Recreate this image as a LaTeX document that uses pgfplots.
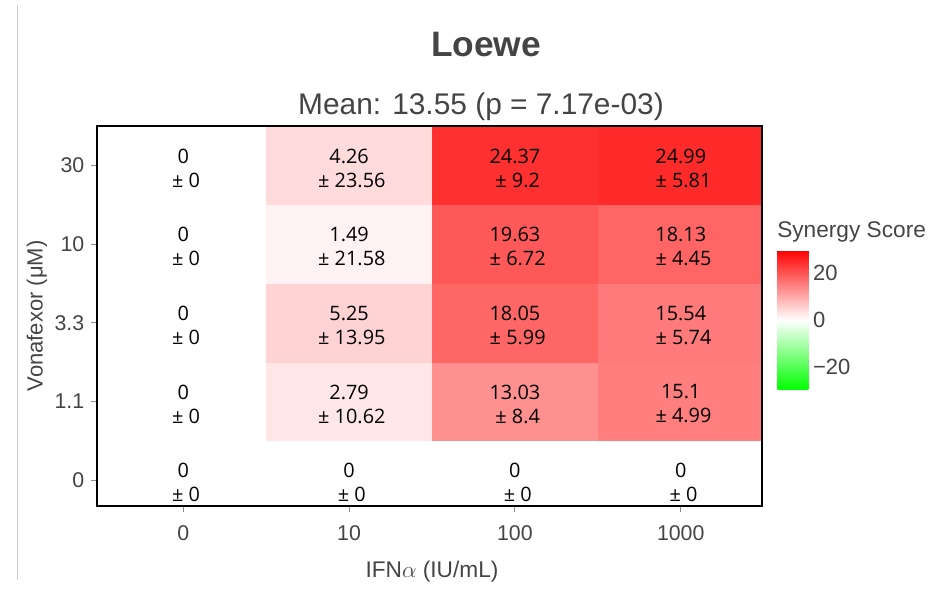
\documentclass[border=0pt]{standalone}
\usepackage{pgfplots}
\pgfplotsset{compat=1.18}
\usepackage{fontspec}
\setmainfont{Liberation Sans}
\newfontfamily\annfont{Open Sans}
\definecolor{tc}{HTML}{444444}
\begin{document}
\begin{tikzpicture}
\path[use as bounding box] (0,0) rectangle (711pt,-444pt);
\draw[black!20, line width=0.75pt] (12.75pt,-3.75pt) -- (12.75pt,-435pt);
\begin{axis}[
  at={(72.75pt,-379.5pt)}, anchor=south west,
  scale only axis, width=498.75pt, height=285pt,
  xmin=-0.52, xmax=3.49, ymin=-0.33, ymax=4.5,
  xtick={0,1,2,3}, xticklabels={0,10,100,1000},
  ytick={0,1,2,3,4}, yticklabels={0,1.1,3.3,10,30},
  tick align=outside, xtick pos=bottom, ytick pos=left,
  major tick length=4.5pt,
  tick style={black!45, line width=0.75pt},
  ticklabel style={font=\fontsize{16}{19}\selectfont, text=tc},
  xticklabel style={yshift=-6.5pt},
  yticklabel style={xshift=-1.5pt},
  axis line style={black, line width=1.6pt},
  axis on top,
  colormap={synergy}{rgb255=(0,255,0) rgb255=(255,255,255) rgb255=(255,0,0)},
  point meta min=-30, point meta max=30,
  colorbar,
  colorbar/width=23.25pt,
  colorbar style={
    at={(parent axis.north east)}, anchor=north west, xshift=3pt, yshift=-93pt,
    height=105pt,
    ytick={-20,0,20}, yticklabels={−20,0,20},
    major tick length=0pt, axis line style={draw=none},
    yticklabel style={font=\fontsize{16.5}{19}\selectfont, text=tc, xshift=0pt},
    yticklabel pos=right,
  },
]
\addplot[matrix plot*, mesh/cols=4, point meta=explicit] table[meta=v] {
x y v
0 0 0
1 0 0
2 0 0
3 0 0
0 1 0
1 1 2.79
2 1 13.03
3 1 15.1
0 2 0
1 2 5.25
2 2 18.05
3 2 15.54
0 3 0
1 3 1.49
2 3 19.63
3 3 18.13
0 4 0
1 4 4.26
2 4 24.37
3 4 24.99
};
\addplot[only marks, mark=none, point meta=explicit symbolic,
  visualization depends on={value \thisrow{sd}\as\sd},
  nodes near coords={\pgfplotspointmeta\\\hspace*{0.28em}± \sd},
  nodes near coords style={anchor=center, align=center, text=black, yshift=-2pt,
    font=\annfont\fontsize{14.9}{18}\selectfont}] table[meta=m] {
x y m sd
0 0 0 0
1 0 0 0
2 0 0 0
3 0 0 0
0 1 0 0
1 1 2.79 10.62
2 1 13.03 8.4
3 1 15.1 4.99
0 2 0 0
1 2 5.25 13.95
2 2 18.05 5.99
3 2 15.54 5.74
0 3 0 0
1 3 1.49 21.58
2 3 19.63 6.72
3 3 18.13 4.45
0 4 0 0
1 4 4.26 23.56
2 4 24.37 9.2
3 4 24.99 5.81
};
\end{axis}
\node[font=\bfseries\fontsize{26.5}{30}\selectfont, text=tc] at (364.5pt,-33.75pt) {Loewe};
\node[font=\fontsize{22.4}{26}\selectfont, text=tc] at (360.75pt,-80.25pt) {Mean: 13.55 (p = 7.17e-03)};
\node[rotate=90, font=\fontsize{16.5}{19}\selectfont, text=tc] at (27.75pt,-237pt) {Vonafexor (μM)};
\node[font=\fontsize{17}{20}\selectfont, text=tc] at (324pt,-429pt) {IFN$\alpha$ (IU/mL)};
\node[anchor=west, font=\fontsize{17}{20}\selectfont, text=tc, inner sep=0pt] at (582.75pt,-174pt) {Synergy Score};
\end{tikzpicture}
\end{document}
